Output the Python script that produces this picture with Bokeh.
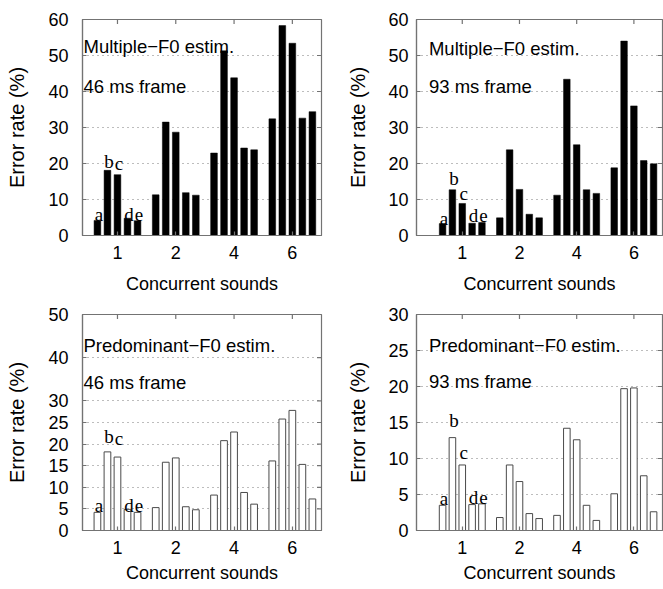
import math
from bokeh.plotting import figure
from bokeh.layouts import gridplot
from bokeh.models import Range1d, FixedTicker, Label, ColumnDataSource
from bokeh.embed import file_html
from bokeh.resources import INLINE

# ---- data ----
groups = [1, 2, 3, 4]
group_labels = ["1", "2", "4", "6"]
series_names = ["a", "b", "c", "d", "e"]

# Multiple-F0 estimation, 46 ms frame
m46_a = [4.2, 11.3, 22.9, 32.4]
m46_b = [18.1, 31.5, 51.3, 58.3]
m46_c = [16.9, 28.7, 43.8, 53.4]
m46_d = [4.8, 11.9, 24.3, 32.6]
m46_e = [4.1, 11.2, 23.8, 34.4]

# Multiple-F0 estimation, 93 ms frame
m93_a = [3.3, 4.9, 11.2, 18.8]
m93_b = [12.7, 23.8, 43.4, 54.0]
m93_c = [8.9, 12.8, 25.2, 36.0]
m93_d = [3.4, 5.9, 12.7, 20.8]
m93_e = [3.6, 4.9, 11.7, 19.9]

# Predominant-F0 estimation, 46 ms frame
p46_a = [4.2, 5.3, 8.2, 16.1]
p46_b = [18.2, 15.8, 20.8, 25.8]
p46_c = [17.0, 16.8, 22.8, 27.8]
p46_d = [4.9, 5.5, 8.8, 15.3]
p46_e = [4.2, 4.8, 6.1, 7.3]

# Predominant-F0 estimation, 93 ms frame
p93_a = [3.5, 1.8, 2.1, 5.1]
p93_b = [12.9, 9.1, 14.2, 19.7]
p93_c = [9.1, 6.8, 12.6, 19.8]
p93_d = [3.6, 2.35, 3.5, 7.6]
p93_e = [3.7, 1.66, 1.4, 2.6]

yticks_multi = [0, 10, 20, 30, 40, 50, 60]
yticks_p46 = [0, 5, 10, 15, 20, 25, 30, 40, 50]
yticks_p93 = [0, 5, 10, 15, 20, 25, 30]

SANS = "Liberation Sans"
SERIF = "Liberation Serif"
GREY = "#737373"
STEP = 0.172
BAR_W = 0.115
XMAX = 4.5


def make_panel(series, ymax, yticks, xstart, line1, line2, y1, y2, letter_y,
               filled, left_side, top_row):
    if left_side:
        width, bl, br = 331, 82, 10
        ystand, ylab_stand = 14, 17
    else:
        width, bl, br = 332, 85, 1
        ystand, ylab_stand = 8, 16
    if top_row:
        height, bt, bb = 299, 19, 64
        xs1, xs2 = 10, 12
    else:
        height, bt, bb = 289, 15, 58
        xs1, xs2 = 10, 6

    p = figure(width=width, height=height, output_backend="svg",
               toolbar_location=None,
               x_range=Range1d(xstart, XMAX), y_range=Range1d(0, ymax),
               min_border_left=bl, min_border_right=br,
               min_border_top=bt, min_border_bottom=bb)
    p.background_fill_color = "white"
    p.border_fill_color = "white"
    p.outline_line_color = GREY
    p.outline_line_width = 1.2

    # dotted horizontal grid
    p.xgrid.grid_line_color = None
    p.ygrid.ticker = FixedTicker(ticks=yticks)
    p.ygrid.grid_line_color = "#7a7a7a"
    p.ygrid.grid_line_dash = "1 4"
    p.ygrid.grid_line_width = 1.2

    # bars
    for k, (name, vals) in enumerate(zip(series_names, series)):
        xs = [g + (k - 2) * STEP for g in groups]
        src = ColumnDataSource(dict(x=xs, top=vals))
        if filled:
            p.vbar(x="x", top="top", width=BAR_W, bottom=0, source=src,
                   fill_color="black", line_color="black", line_width=0.5)
        else:
            p.vbar(x="x", top="top", width=BAR_W, bottom=0, source=src,
                   fill_color="white", line_color="#4a4a4a", line_width=1)

    # inward tick marks on the top and right edges of the box
    p.scatter(x=groups, y=[ymax] * len(groups), marker="dash", size=9,
              angle=math.pi / 2, line_color=GREY, line_width=1.2)
    p.scatter(x=[XMAX] * len(yticks), y=yticks, marker="dash", size=9,
              line_color=GREY, line_width=1.2)

    # axes
    xa = p.xaxis[0]
    xa.ticker = FixedTicker(ticks=groups)
    xa.major_label_overrides = {g: lab for g, lab in zip(groups, group_labels)}
    xa.axis_label = "Concurrent sounds"
    ya = p.yaxis[0]
    ya.ticker = FixedTicker(ticks=yticks)
    ya.axis_label = "Error rate (%)"
    for ax in (xa, ya):
        ax.axis_line_color = GREY
        ax.axis_line_width = 1.2
        ax.major_tick_line_color = GREY
        ax.major_tick_line_width = 1.2
        ax.major_tick_in = 4
        ax.major_tick_out = 0
        ax.minor_tick_line_color = None
        ax.major_label_text_font = SANS
        ax.major_label_text_font_size = "18px"
        ax.major_label_text_color = "black"
        ax.axis_label_text_font = SANS
        ax.axis_label_text_font_style = "normal"
        ax.axis_label_text_color = "black"
    xa.axis_label_text_font_size = "18px"
    ya.axis_label_text_font_size = "20px"
    xa.major_label_standoff = xs1
    xa.axis_label_standoff = xs2
    ya.major_label_standoff = ystand
    ya.axis_label_standoff = ylab_stand

    # panel texts
    for txt, yy in ((line1, y1), (line2, y2)):
        p.add_layout(Label(x=0.4, y=yy, text=txt, x_offset=1,
                           text_font=SANS, text_font_size="18.5px",
                           text_baseline="alphabetic", text_color="black"))

    # bar letters
    for k, (name, ly) in enumerate(zip(series_names, letter_y)):
        p.add_layout(Label(x=1 + (k - 2) * STEP, y=ly, text=name, x_offset=1.5,
                           text_font=SERIF, text_font_size="19px",
                           text_align="center", text_baseline="alphabetic",
                           text_color="black"))
    return p


p1 = make_panel([m46_a, m46_b, m46_c, m46_d, m46_e], 60, yticks_multi, 0.4,
                "Multiple\u2212F0 estim.", "46 ms frame", 52.5, 41.4,
                [5.8, 20.5, 20.1, 5.9, 5.9], True, True, True)
p2 = make_panel([m93_a, m93_b, m93_c, m93_d, m93_e], 60, yticks_multi, 0.2,
                "Multiple\u2212F0 estim.", "93 ms frame", 52.0, 41.4,
                [4.8, 15.9, 11.7, 5.5, 5.5], True, False, True)
p3 = make_panel([p46_a, p46_b, p46_c, p46_d, p46_e], 50, yticks_p46, 0.4,
                "Predominant\u2212F0 estim.", "46 ms frame", 42.8, 34.3,
                [5.8, 21.8, 21.2, 5.8, 5.8], False, True, False)
p4 = make_panel([p93_a, p93_b, p93_c, p93_d, p93_e], 30, yticks_p93, 0.2,
                "Predominant\u2212F0 estim.", "93 ms frame", 25.7, 20.7,
                [4.4, 15.3, 10.9, 4.6, 4.6], False, False, False)

layout = gridplot([[p1, p2], [p3, p4]], toolbar_location=None)

open("out.html", "w").write(file_html(layout, INLINE))
